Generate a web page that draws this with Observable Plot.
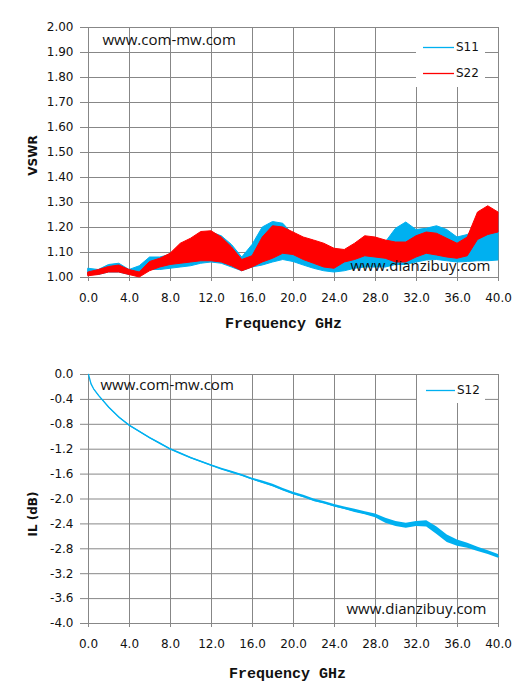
<!DOCTYPE html>
<html><head><meta charset="utf-8">
<script src="https://cdn.jsdelivr.net/npm/d3@7"></script>
<script src="https://cdn.jsdelivr.net/npm/@observablehq/plot@0.6"></script>
<style>
body{margin:0;background:#fff;}
#wrap{position:relative;width:520px;height:699px;background:#fff;}
#wrap > svg{display:block;}
</style></head><body><div id="wrap"></div>
<script>
// ---- data ----
const freqTicks = [0,4,8,12,16,20,24,28,32,36,40];
const vswrTicks = [1.0,1.1,1.2,1.3,1.4,1.5,1.6,1.7,1.8,1.9,2.0];
const ilTicks = [0,-0.4,-0.8,-1.2,-1.6,-2.0,-2.4,-2.8,-3.2,-3.6,-4.0];

const freq = [0,1,2,3,4,5,6,7,8,9,10,11,12,13,14,15,16,17,18,19,20,21,22,23,24,25,26,27,28,29,30,31,32,33,34,35,36,37,38,39,40];
const s11Low  = [1.010,1.010,1.020,1.020,1.010,1.020,1.030,1.030,1.035,1.040,1.045,1.055,1.060,1.055,1.040,1.025,1.040,1.048,1.060,1.070,1.062,1.048,1.035,1.025,1.020,1.025,1.035,1.040,1.040,1.040,1.050,1.050,1.060,1.068,1.070,1.065,1.060,1.062,1.065,1.065,1.068];
const s11High = [1.035,1.030,1.050,1.055,1.030,1.045,1.080,1.080,1.090,1.120,1.145,1.170,1.180,1.165,1.130,1.080,1.130,1.200,1.222,1.215,1.170,1.140,1.120,1.100,1.080,1.080,1.090,1.100,1.110,1.140,1.195,1.220,1.190,1.195,1.205,1.190,1.160,1.170,1.200,1.220,1.250];
const s22Low  = [1.005,1.010,1.020,1.020,1.010,1.000,1.025,1.040,1.050,1.055,1.060,1.065,1.065,1.060,1.045,1.025,1.040,1.060,1.075,1.095,1.090,1.070,1.055,1.040,1.035,1.060,1.070,1.085,1.080,1.075,1.060,1.060,1.080,1.095,1.088,1.080,1.075,1.085,1.150,1.170,1.180];
const s22High = [1.020,1.030,1.042,1.048,1.030,1.020,1.062,1.075,1.095,1.135,1.155,1.182,1.185,1.160,1.120,1.070,1.085,1.160,1.205,1.200,1.180,1.160,1.148,1.135,1.115,1.110,1.135,1.165,1.160,1.148,1.140,1.140,1.165,1.180,1.175,1.155,1.135,1.160,1.260,1.285,1.260];

const s12Freq = [0,0.25,0.5,1,2,3,4,5,6,7,8,9,10,11,12,13,14,15,16,17,18,19,20,21,22,23,24,25,26,27,28,29,30,31,32,33,34,35,36,37,38,39,40];
const s12 = [0,-0.15,-0.23,-0.34,-0.53,-0.69,-0.82,-0.92,-1.02,-1.11,-1.20,-1.27,-1.34,-1.40,-1.46,-1.52,-1.57,-1.62,-1.68,-1.73,-1.785,-1.85,-1.91,-1.96,-2.02,-2.06,-2.11,-2.15,-2.19,-2.23,-2.27,-2.35,-2.40,-2.43,-2.40,-2.40,-2.51,-2.64,-2.71,-2.75,-2.81,-2.86,-2.92];
const s12Spread = [0,0.005,0.005,0.008,0.01,0.01,0.012,0.012,0.012,0.012,0.012,0.012,0.012,0.012,0.012,0.012,0.015,0.015,0.015,0.02,0.02,0.02,0.02,0.02,0.02,0.02,0.02,0.02,0.025,0.025,0.03,0.04,0.04,0.04,0.04,0.05,0.06,0.06,0.05,0.04,0.035,0.03,0.03];

const s11Rows = freq.map((f,i)=>({f, lo:s11Low[i], hi:s11High[i]}));
const s22Rows = freq.map((f,i)=>({f, lo:s22Low[i], hi:s22High[i]}));
const s12Rows = s12Freq.map((f,i)=>({f, v:s12[i], lo:s12[i]-s12Spread[i], hi:s12[i]+s12Spread[i]}));

const GRID = "#878787", CYAN = "#00B0F0", RED = "#FF0000", INK = "#111";
const TICKFONT = "DejaVu Sans";
const WM = {fontFamily:"Open Sans", fontSize:15, fill:INK};

const topChart = Plot.plot({
  width:520, height:345, marginTop:27, marginBottom:68, marginLeft:88, marginRight:22,
  style:{fontFamily:TICKFONT, fontSize:"12px", color:INK, background:"#fff"},
  x:{domain:[0,40]}, y:{domain:[1,2]},
  marks:[
    Plot.gridX(freqTicks,{stroke:GRID, strokeOpacity:1}),
    Plot.gridY(vswrTicks,{stroke:GRID, strokeOpacity:1}),
    Plot.areaY(s11Rows,{x:"f", y1:"lo", y2:"hi", fill:CYAN, stroke:CYAN, strokeWidth:1}),
    Plot.areaY(s22Rows,{x:"f", y1:"lo", y2:"hi", fill:RED, stroke:RED, strokeWidth:1}),
    Plot.axisX(freqTicks,{tickFormat:d=>d.toFixed(1), tickSize:4, tickPadding:12, stroke:GRID, fill:INK, label:null}),
    Plot.axisY(vswrTicks,{tickFormat:d=>d.toFixed(2), tickSize:8, tickPadding:7, stroke:GRID, fill:INK, label:null}),
    Plot.text(["www.com-mw.com"],{text:d=>d, frameAnchor:"top-left", textAnchor:"start", lineAnchor:"middle", dx:14, dy:13, ...WM}),
    Plot.text(["www.dianzibuy.com"],{text:d=>d, frameAnchor:"bottom-right", textAnchor:"end", lineAnchor:"middle", dx:-8, dy:-11, ...WM}),
    Plot.text(["Frequency GHz"],{text:d=>d, frameAnchor:"bottom", textAnchor:"middle", lineAnchor:"middle", dx:-10, dy:46, fontFamily:"Liberation Mono", fontWeight:"bold", fontSize:15, fill:INK}),
    Plot.text(["VSWR"],{text:d=>d, frameAnchor:"left", rotate:-90, textAnchor:"middle", lineAnchor:"middle", dx:-55, dy:3, fontFamily:"DejaVu Sans", fontWeight:"bold", fontSize:12, fill:INK})
  ]
});

const botChart = Plot.plot({
  width:520, height:354, marginTop:29, marginBottom:76, marginLeft:88, marginRight:22,
  style:{fontFamily:TICKFONT, fontSize:"12px", color:INK, background:"#fff"},
  x:{domain:[0,40]}, y:{domain:[-4,0]},
  marks:[
    Plot.gridX(freqTicks,{stroke:GRID, strokeOpacity:1}),
    Plot.gridY(ilTicks,{stroke:GRID, strokeOpacity:1}),
    Plot.areaY(s12Rows,{x:"f", y1:"lo", y2:"hi", fill:CYAN}),
    Plot.line(s12Rows,{x:"f", y:"v", stroke:CYAN, strokeWidth:1.3}),
    Plot.axisX(freqTicks,{tickFormat:d=>d.toFixed(1), tickSize:4, tickPadding:12, stroke:GRID, fill:INK, label:null}),
    Plot.axisY(ilTicks,{tickFormat:d=>d.toFixed(1).replace("-0.0","0.0"), tickSize:8, tickPadding:7, stroke:GRID, fill:INK, label:null}),
    Plot.text(["www.com-mw.com"],{text:d=>d, frameAnchor:"top-left", textAnchor:"start", lineAnchor:"middle", dx:12, dy:11, ...WM}),
    Plot.text(["www.dianzibuy.com"],{text:d=>d, frameAnchor:"bottom-right", textAnchor:"end", lineAnchor:"middle", dx:-12, dy:-14, ...WM}),
    Plot.text(["Frequency GHz"],{text:d=>d, frameAnchor:"bottom", textAnchor:"middle", lineAnchor:"middle", dx:-6, dy:50, fontFamily:"Liberation Mono", fontWeight:"bold", fontSize:15, fill:INK}),
    Plot.text(["IL (dB)"],{text:d=>d, frameAnchor:"left", rotate:-90, textAnchor:"middle", lineAnchor:"middle", dx:-55, dy:15, fontFamily:"DejaVu Sans", fontWeight:"bold", fontSize:12, fill:INK})
  ]
});

const wrap = document.getElementById("wrap");
wrap.appendChild(topChart);
wrap.appendChild(botChart);

// legends drawn into each chart's svg
function legend(svgNode, left, topPx, w, h, items){
  const g = d3.select(svgNode).append("g").attr("transform", `translate(${left},${topPx})`);
  g.append("rect").attr("width", w).attr("height", h).attr("fill", "#fff");
  items.forEach(it=>{
    g.append("line").attr("x1", it.x1).attr("x2", it.x2).attr("y1", it.y + 0.5).attr("y2", it.y + 0.5)
      .attr("stroke", it.c).attr("stroke-width", 1.3);
    g.append("text").attr("x", it.x2 + 2).attr("y", it.y).attr("dy", "0.35em").attr("text-anchor", "start")
      .attr("font-family", "DejaVu Sans").attr("font-size", 12).attr("fill", INK).text(it.label);
  });
}
legend(topChart, 416, 28, 69, 59, [{label:"S11", c:CYAN, x1:7, x2:38, y:19}, {label:"S22", c:RED, x1:7, x2:38, y:45}]);
legend(botChart, 417, 30, 68, 28, [{label:"S12", c:CYAN, x1:9, x2:38, y:15}]);
</script></body></html>
